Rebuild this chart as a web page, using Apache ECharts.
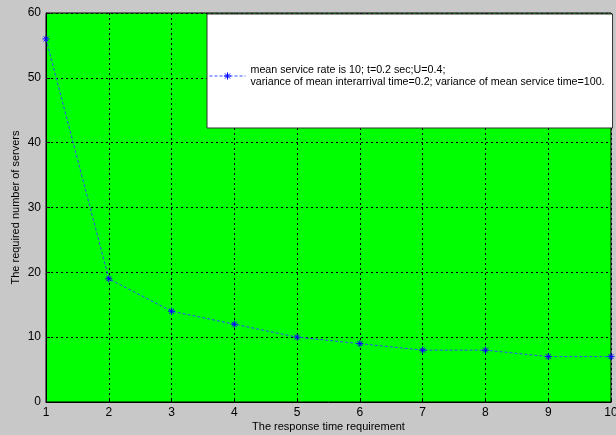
<!DOCTYPE html>
<html>
<head>
<meta charset="utf-8">
<script src="https://cdn.jsdelivr.net/npm/echarts@6/dist/echarts.min.js"></script>
<style>
  html, body { margin: 0; padding: 0; background: #c8c8c8; }
  #main { width: 616px; height: 435px; }
</style>
</head>
<body>
<div id="main"></div>
<script>
// response time requirement (x) and required servers (y)
var responseTimes = [1, 2, 3, 4, 5, 6, 7, 8, 9, 10];
var requiredServers = [56, 19, 14, 12, 10, 9, 8, 8, 7, 7];
var seriesName = 'mean service rate is 10; t=0.2 sec;U=0.4;\nvariance of mean interarrival time=0.2; variance of mean service time=100.';

var points = responseTimes.map(function (t, i) { return [t, requiredServers[i]]; });

// asterisk marker like matlab '*'
var starPath = 'path://M5,0L5,10M0,5L10,5M1.5,1.5L8.5,8.5M1.5,8.5L8.5,1.5';

var myChart = echarts.init(document.getElementById('main'));
var option = {
    backgroundColor: '#c8c8c8',
    textStyle: { fontFamily: 'Liberation Sans' },
    animation: false,
    grid: {
        left: 46, right: 5, top: 13, bottom: 33,
        outerBoundsMode: 'none',
        show: true,
        backgroundColor: '#00ff00',
        borderColor: '#000',
        borderWidth: 1
    },
    legend: {
        left: 207, top: 14,
        padding: [50, 8, 40, 2],
        backgroundColor: '#fff',
        borderColor: '#333',
        borderWidth: 1,
        borderRadius: 0,
        itemWidth: 36,
        itemHeight: 9,
        itemGap: 0,
        textStyle: { fontSize: 10.7, color: '#000', lineHeight: 12, fontFamily: 'Liberation Sans' },
        lineStyle: { type: [3, 2], width: 1 },
        itemStyle: { color: '#0000ff', borderColor: '#0000ff', borderWidth: 1 },
        data: [{ name: seriesName }]
    },
    xAxis: {
        type: 'value',
        min: 1, max: 10, interval: 1,
        name: 'The response time requirement',
        nameLocation: 'middle',
        nameGap: 19,
        nameMoveOverlap: false,
        nameTextStyle: { fontSize: 11, color: '#000' },
        axisLine: { lineStyle: { color: '#000' } },
        axisTick: { inside: true, length: 4, lineStyle: { color: '#000' } },
        axisLabel: { fontSize: 12, color: '#000', margin: 5 },
        splitLine: { show: true, lineStyle: { color: '#000', type: [2, 3] } }
    },
    yAxis: {
        type: 'value',
        min: 0, max: 60, interval: 10,
        name: 'The required number of servers',
        nameLocation: 'middle',
        nameGap: 25,
        nameMoveOverlap: false,
        nameTextStyle: { fontSize: 11, color: '#000' },
        axisLine: { show: true, lineStyle: { color: '#000' } },
        axisTick: { show: true, inside: true, length: 4, lineStyle: { color: '#000' } },
        axisLabel: { fontSize: 12, color: '#000', margin: 5 },
        splitLine: { show: true, lineStyle: { color: '#000', type: [2, 3] } }
    },
    series: [{
        name: seriesName,
        type: 'line',
        data: points,
        symbol: starPath,
        symbolSize: 7,
        itemStyle: { color: '#0000ff', borderColor: '#0000ff', borderWidth: 1 },
        lineStyle: { color: '#3050ff', width: 1, type: [3, 2] }
    }]
};
myChart.setOption(option);
</script>
</body>
</html>
